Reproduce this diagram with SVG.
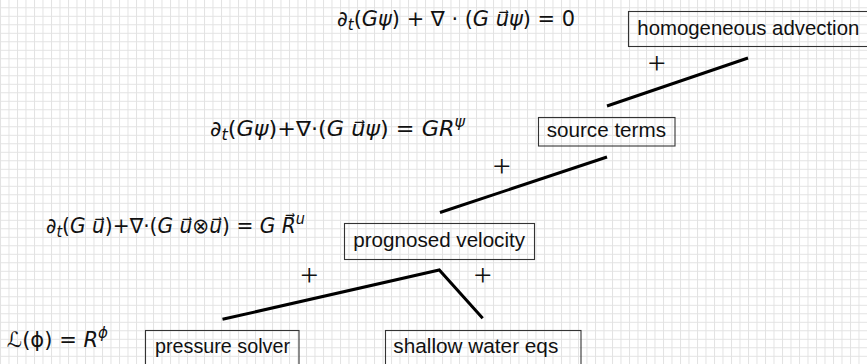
<svg xmlns="http://www.w3.org/2000/svg" width="867" height="364" viewBox="0 0 867 364">
<defs>
<pattern id="grid" patternUnits="userSpaceOnUse" x="0" y="7.3" width="8.5" height="8.5">
<path d="M0.5 0 V8.5 M0 0.5 H8.5" fill="none" stroke="#e2e2e2" stroke-width="1"/>
</pattern>
<style>
.box{fill:none;stroke:#333;stroke-width:1.1}
.lbl{font-family:"Liberation Sans",Arial,sans-serif;font-size:20.5px;fill:#111}
.eq{font-family:"DejaVu Sans","Liberation Sans",sans-serif;font-size:21px;fill:#111}
.it{font-style:italic}
.plus{font-family:"Liberation Serif","Times New Roman",serif;font-size:32px;fill:#111;text-anchor:middle}
.conn{fill:none;stroke:#000;stroke-width:3;stroke-linecap:butt;stroke-linejoin:miter}
</style>
</defs>
<rect x="0" y="0" width="867" height="364" fill="#fff"/>
<rect x="0" y="0" width="867" height="364" fill="url(#grid)"/>

<g id="equations">
<text class="eq" x="337" y="26" textLength="238" lengthAdjust="spacingAndGlyphs">∂<tspan class="it" font-size="15" dy="4">t</tspan><tspan dy="-4">(</tspan><tspan class="it">Gψ</tspan>) + ∇ · (<tspan class="it">G u⃗ψ</tspan>) = 0</text>
<text class="eq" x="210" y="136" textLength="255" lengthAdjust="spacingAndGlyphs">∂<tspan class="it" font-size="15" dy="4">t</tspan><tspan dy="-4">(</tspan><tspan class="it">Gψ</tspan>)+∇·(<tspan class="it">G u⃗ψ</tspan>) = <tspan class="it">GR</tspan><tspan class="it" font-size="15" dy="-9">ψ</tspan></text>
<text class="eq" x="46" y="233" textLength="259" lengthAdjust="spacingAndGlyphs">∂<tspan class="it" font-size="15" dy="4">t</tspan><tspan dy="-4">(</tspan><tspan class="it">G u⃗</tspan>)+∇·(<tspan class="it">G u⃗</tspan>⊗<tspan class="it">u⃗</tspan>) = <tspan class="it">G R⃗</tspan><tspan class="it" font-size="15" dy="-9">u</tspan></text>
<text class="eq" x="7" y="347" textLength="101" lengthAdjust="spacingAndGlyphs">ℒ(ϕ) = <tspan class="it">R</tspan><tspan class="it" font-size="15" dy="-9">ϕ</tspan></text>
</g>

<g id="node-homogeneous-advection">
<rect class="box" x="628.5" y="11.5" width="250" height="35"/>
<text class="lbl" x="637.3" y="35" textLength="222" lengthAdjust="spacingAndGlyphs">homogeneous advection</text>
</g>

<g id="node-source-terms">
<rect class="box" x="538.5" y="117.5" width="136.5" height="28.5"/>
<text class="lbl" x="546.7" y="137.3" textLength="119.3" lengthAdjust="spacingAndGlyphs">source terms</text>
</g>

<g id="node-prognosed-velocity">
<rect class="box" x="344.5" y="223.5" width="190" height="36"/>
<text class="lbl" x="353.3" y="246.7" textLength="171.7" lengthAdjust="spacingAndGlyphs">prognosed velocity</text>
</g>

<g id="node-pressure-solver">
<rect class="box" x="145.5" y="330.5" width="153.5" height="40"/>
<text class="lbl" x="155" y="353.3" textLength="135" lengthAdjust="spacingAndGlyphs">pressure solver</text>
</g>

<g id="node-shallow-water-eqs">
<rect class="box" x="385.5" y="330.5" width="195.5" height="40"/>
<text class="lbl" x="393.3" y="352.7" textLength="165" lengthAdjust="spacingAndGlyphs">shallow water eqs</text>
</g>

<g id="connectors">
<path class="conn" d="M607 106 L748 58"/>
<path class="conn" d="M440 212.5 L607 157"/>
<path class="conn" d="M222.5 319.3 L439.3 270 L482.7 318.3"/>
<text class="plus" x="656.7" y="73.5">+</text>
<text class="plus" x="501.7" y="176.5">+</text>
<text class="plus" x="309.3" y="285.8">+</text>
<text class="plus" x="482.7" y="285.8">+</text>
</g>
</svg>
